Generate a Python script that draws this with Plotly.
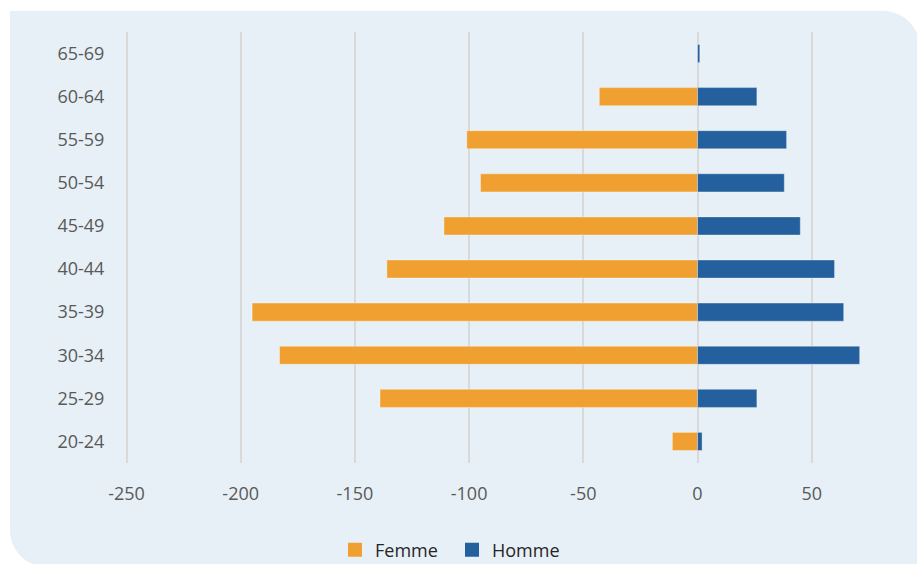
import plotly.graph_objects as go

# Age groups, bottom to top
age_groups = ["20-24", "25-29", "30-34", "35-39", "40-44",
              "45-49", "50-54", "55-59", "60-64", "65-69"]
femme = [11, 139, 183, 195, 136, 111, 95, 101, 43, 0]
homme = [2, 26, 71, 64, 60, 45, 38, 39, 26, 1]

tick_vals = [-250, -200, -150, -100, -50, 0, 50]
tick_text = ["-250", "-200", "-150", "-100", "-50", "0", "50"]

FEMME_COLOR = "#F0A030"
HOMME_COLOR = "#23609D"

W, H = 917, 564
ML, MR, MT, MB = 123, 0, 32, 101
PW, PH = W - ML - MR, H - MT - MB
X_LEFT_PX, X_ZERO_PX = 126.5, 697.5          # pixel positions of -250 and 0
PX_PER_UNIT = (X_ZERO_PX - X_LEFT_PX) / 250.0
x_min = -250 - (X_LEFT_PX - ML) / PX_PER_UNIT
x_max = x_min + PW / PX_PER_UNIT


def px(x):
    return (x - ML) / PW


def py(y):
    return (H - MB - y) / PH


# Rounded background panel (pixel geometry converted to paper units)
r = 37
k = 0.5523 * r
left, top, right, bottom = 10, 11, 920, 567
pts = [
    ("M", [(left, top)]),
    ("L", [(right - r, top)]),
    ("C", [(right - r + k, top), (right, top + r - k), (right, top + r)]),
    ("L", [(right, bottom)]),
    ("L", [(left + r, bottom)]),
    ("C", [(left + r - k, bottom), (left, bottom - r + k), (left, bottom - r)]),
]
path = ""
for cmd, coords in pts:
    path += cmd + " ".join(f"{px(a):.5f},{py(b):.5f}" for a, b in coords) + " "
path += "Z"

fig = go.Figure()
fig.add_trace(go.Bar(
    y=age_groups, x=[-v for v in femme], name="Femme", orientation="h",
    marker=dict(color=FEMME_COLOR, line=dict(color="rgba(255,255,255,0.35)", width=1)),
    width=0.42, customdata=femme, showlegend=False,
    hovertemplate="%{y}: %{customdata}<extra>Femme</extra>",
))
fig.add_trace(go.Bar(
    y=age_groups, x=homme, name="Homme", orientation="h",
    marker=dict(color=HOMME_COLOR, line=dict(color="rgba(255,255,255,0.35)", width=1)),
    width=0.42, showlegend=False,
))
# Legend entries with larger square swatches, one legend box per series
for name, color, leg in [("Femme", FEMME_COLOR, "legend"), ("Homme", HOMME_COLOR, "legend2")]:
    fig.add_trace(go.Scatter(
        x=[None], y=[None], mode="markers", name=name, legend=leg,
        marker=dict(symbol="square", size=14, color=color), showlegend=True,
    ))

legend_style = dict(orientation="h", yanchor="middle", xanchor="left",
                    font=dict(size=18, color="#262626"),
                    bgcolor="rgba(0,0,0,0)", itemwidth=30)

fig.update_layout(
    width=W, height=H,
    margin=dict(l=ML, r=MR, t=MT, b=MB, pad=0, autoexpand=False),
    paper_bgcolor="white",
    plot_bgcolor="rgba(0,0,0,0)",
    barmode="relative",
    font=dict(family="Open Sans", size=18, color="#595959"),
    shapes=[dict(type="path", path=path, xref="paper", yref="paper",
                 fillcolor="#E7F0F6", line=dict(width=0), layer="below")],
    legend=dict(x=px(335), y=py(550), **legend_style),
    legend2=dict(x=px(452), y=py(550), **legend_style),
    showlegend=True,
)
fig.update_xaxes(
    range=[x_min, x_max], tickvals=tick_vals, ticktext=tick_text,
    showgrid=True, gridcolor="#D9D9D9", gridwidth=1.5,
    zeroline=True, zerolinecolor="#D9D9D9", zerolinewidth=1.5,
    showline=False, ticks="outside", ticklen=14, tickcolor="rgba(0,0,0,0)",
    fixedrange=True,
)
fig.update_yaxes(
    range=[-0.5, 9.5], showgrid=False, zeroline=False, showline=False,
    ticks="outside", ticklen=14, tickcolor="rgba(0,0,0,0)", fixedrange=True,
)

fig.write_html("out.html")
